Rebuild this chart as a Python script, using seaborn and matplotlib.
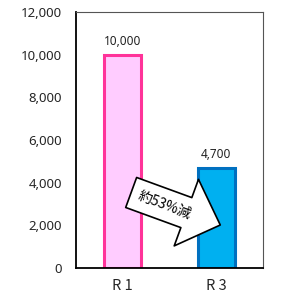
import matplotlib
matplotlib.use("Agg")
import matplotlib.pyplot as plt
from matplotlib.patches import FancyArrowPatch
from matplotlib.ticker import FixedLocator
import seaborn as sns
import pandas as pd

# data
categories = ["R 1", "R 3"]
values = [10000, 4700]
value_labels = ["10,000", "4,700"]
fill_colors = ["#FFCCFF", "#00B0F0"]
edge_colors = ["#FF3399", "#0070C0"]
y_ticks = [0, 2000, 4000, 6000, 8000, 10000, 12000]
arrow_text = "約53%減"

sns.set_style("white")
plt.rcParams["font.family"] = ["Noto Sans CJK JP", "DejaVu Sans"]
num_font = ["Noto Sans", "DejaVu Sans"]

df = pd.DataFrame({"cat": categories, "val": values})

fig = plt.figure(figsize=(3.07, 2.98), dpi=100)
ax = fig.add_axes([76 / 307, 30 / 298, 187 / 307, 256 / 298])

sns.barplot(data=df, x="cat", y="val", hue="cat", palette=fill_colors,
            saturation=1, width=0.4, legend=False, ax=ax)
for bar, ec in zip(ax.patches, edge_colors):
    bar.set_edgecolor(ec)
    bar.set_linewidth(2.2)

# value labels above bars
for i, (v, lab) in enumerate(zip(values, value_labels)):
    ax.annotate(lab, (i, v), xytext=(0, 5), textcoords="offset points",
                ha="center", va="bottom", fontsize=8.5, color="#222222",
                family=num_font)

ax.set_xlim(-0.5, 1.5)
ax.set_ylim(0, 12000)
ax.set_yticks(y_ticks)
ax.set_yticklabels([f"{t:,}" for t in y_ticks], fontsize=9.5, family=num_font)
ax.set_xlabel("")
ax.set_ylabel("")
ax.tick_params(axis="x", which="major", length=0, pad=8, labelsize=10.5)
ax.tick_params(axis="y", which="major", direction="out", length=4,
               width=1, pad=6, color="black")
ax.xaxis.set_minor_locator(FixedLocator([-0.5, 0.5, 1.5]))
ax.tick_params(axis="x", which="minor", direction="in", length=3,
               width=0.8, color="#404040")

for side in ["left", "bottom"]:
    ax.spines[side].set_color("black")
    ax.spines[side].set_linewidth(1.3)
for side in ["top", "right"]:
    ax.spines[side].set_color("#555555")
    ax.spines[side].set_linewidth(0.8)

# block arrow from R1 towards R3
arrow = FancyArrowPatch((0.09, 3540), (1.043, 2016),
                        arrowstyle="simple,head_length=26,head_width=51,tail_width=23",
                        mutation_scale=1, shrinkA=0, shrinkB=0,
                        facecolor="white", edgecolor="black", linewidth=1.2,
                        zorder=5)
ax.add_patch(arrow)
ax.text(0.45, 2930, arrow_text, rotation=-21, ha="center", va="center",
        fontsize=10, color="black", zorder=6, rotation_mode="anchor")

fig.savefig("out.png", dpi=100)
